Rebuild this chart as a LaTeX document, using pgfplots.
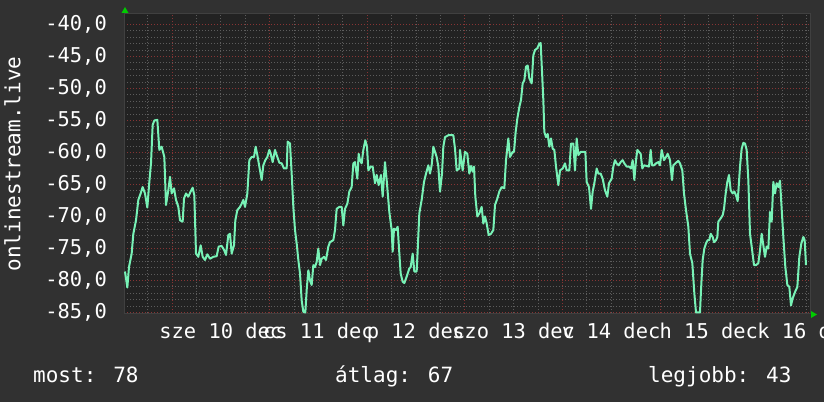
\documentclass[border=0pt]{standalone}
\usepackage{fontspec}
\setmainfont{DejaVu Sans Mono}
\usepackage{pgfplots}
\pgfplotsset{compat=1.18}
\definecolor{bgcol}{RGB}{49,49,49}
\definecolor{plotbg}{RGB}{34,34,34}
\definecolor{linecol}{RGB}{120,242,182}
\definecolor{majgrid}{RGB}{135,52,52}
\definecolor{mingrid}{RGB}{92,92,92}
\definecolor{arrowgreen}{RGB}{0,204,0}
\definecolor{axiscol}{RGB}{64,64,64}
\begin{document}
\begin{tikzpicture}
\useasboundingbox (0,0) rectangle (824pt,402pt);
\fill[bgcol] (0,0) rectangle (824pt,402pt);
\begin{axis}[
  scale only axis, width=686pt, height=299pt,
  at={(124pt,89pt)}, anchor=south west,
  xmin=12, xmax=2070, ymin=-85.08, ymax=-38.36,
  axis background/.style={fill=plotbg},
  axis line style={draw=axiscol, line width=1pt},
  xtick={302.4,595.2,888,1180.8,1473.6,1766.4,2059.2},
  xticklabels={sze 10 dec, cs 11 dec, p 12 dec, szo 13 dec, v 14 dec, h 15 dec, k 16 dec},
  xmajorgrids=false,
  minor xtick={82.8,229.2,302.4,375.6,522,595.2,668.4,814.8,888,961.2,1107.6,1180.8,1254,1400.4,1473.6,1546.8,1693.2,1766.4,1839.6,1986,2059.2},
  xminorgrids=true,
  extra x ticks={156,448.8,741.6,1034.4,1327.2,1620,1912.8},
  extra x tick labels={,,,,,,},
  extra x tick style={grid=major},
  ytick={-85,-80,...,-40},
  minor y tick num=4,
  ymajorgrids=true, yminorgrids=true,
  major grid style={draw=majgrid, line width=0.8pt, dash pattern=on 1pt off 2pt},
  minor grid style={draw=mingrid, line width=0.8pt, dash pattern=on 1pt off 2pt},
  major tick length=0pt, minor tick length=0pt,
  tick label style={font=\fontsize{20.4}{24}\selectfont, text=white},
  xticklabel style={anchor=base, inner sep=0pt, yshift=-25pt},
  yticklabel style={anchor=east, inner sep=0pt, xshift=-17pt,
    /pgf/number format/.cd, fixed, fixed zerofill, precision=1, use comma, assume math mode=true},
]
\addplot[linecol, line width=2pt, line join=round] coordinates {
(15,-78.6) (22,-81.1) (27,-77.9) (35,-75.8) (40,-72.7) (48,-70.6) (55,-67.4) (62,-66.4) (68,-65.4) (75,-66.4) (82,-68.6) (88,-64.6) (93,-61.7) (98,-55.7) (103,-55.0) (112,-54.9) (118,-59.6) (125,-59.1) (133,-60.7) (138,-68.2) (145,-65.9) (150,-63.8) (155,-66.4) (162,-65.6) (168,-67.4) (175,-68.5) (180,-70.6) (188,-70.8) (192,-67.2) (198,-66.4) (205,-66.9) (212,-66.1) (218,-65.5) (223,-66.7) (228,-75.8) (235,-76.3) (242,-74.5) (248,-76.3) (255,-76.8) (262,-75.9) (270,-76.6) (280,-76.3) (290,-76.2) (296,-74.7) (305,-74.6) (312,-75.2) (318,-76.0) (325,-72.9) (330,-72.7) (335,-75.8) (342,-74.5) (346,-70.6) (352,-69.0) (360,-68.5) (365,-68.0) (370,-67.4) (375,-68.5) (382,-66.4) (388,-61.2) (395,-60.7) (402,-60.7) (407,-59.1) (412,-60.4) (418,-62.2) (425,-64.3) (430,-62.0) (436,-61.2) (442,-60.7) (448,-59.6) (452,-60.2) (458,-61.5) (465,-59.6) (470,-60.4) (478,-61.6) (485,-61.7) (492,-62.5) (500,-62.5) (503,-58.3) (510,-58.6) (515,-63.3) (520,-68.5) (525,-72.1) (530,-74.2) (535,-76.8) (540,-78.9) (545,-83.1) (550,-84.9) (556,-85.0) (560,-81.5) (565,-78.4) (570,-80.0) (575,-80.7) (580,-77.6) (585,-77.9) (590,-77.1) (595,-75.0) (600,-77.6) (605,-76.6) (612,-76.3) (618,-76.8) (625,-74.7) (630,-74.0) (640,-73.7) (645,-72.1) (650,-68.8) (658,-68.5) (665,-68.5) (670,-71.4) (675,-68.8) (682,-68.0) (688,-66.1) (695,-65.4) (700,-61.7) (705,-61.5) (712,-64.1) (716,-60.2) (720,-61.2) (725,-61.7) (730,-59.6) (736,-58.1) (741,-59.1) (745,-62.8) (752,-62.2) (758,-62.2) (765,-64.8) (770,-63.5) (776,-65.1) (783,-63.5) (788,-66.9) (795,-61.5) (800,-64.3) (808,-69.3) (815,-72.1) (818,-75.5) (822,-71.9) (828,-72.1) (833,-71.6) (838,-75.8) (842,-78.9) (848,-80.2) (853,-80.4) (860,-79.4) (868,-78.1) (872,-77.9) (878,-75.8) (883,-78.6) (890,-78.6) (893,-75.3) (898,-69.5) (905,-67.4) (912,-64.6) (918,-63.3) (925,-62.0) (930,-63.3) (935,-62.0) (940,-59.1) (945,-59.9) (950,-60.7) (955,-62.2) (960,-66.1) (966,-63.3) (970,-59.1) (975,-57.6) (985,-57.3) (1000,-57.3) (1005,-59.4) (1010,-62.8) (1018,-62.5)
(1020,-59.6) (1028,-62.8) (1035,-59.9) (1042,-60.2) (1048,-63.3) (1053,-62.1) (1058,-63.0) (1062,-62.2) (1066,-66.9) (1072,-70.0) (1078,-69.5) (1085,-68.5) (1090,-71.1) (1095,-70.0) (1100,-71.1) (1106,-72.9) (1113,-72.7) (1120,-72.1) (1125,-68.2) (1132,-67.2) (1138,-66.1) (1145,-65.4) (1153,-65.6) (1158,-61.2) (1165,-57.8) (1170,-60.7) (1178,-59.9) (1182,-59.9) (1187,-56.8) (1192,-54.7) (1198,-52.9) (1203,-51.8) (1208,-49.2) (1213,-48.7) (1218,-46.6) (1223,-46.4) (1228,-48.4) (1235,-49.2) (1240,-44.8) (1245,-44.0) (1252,-43.7) (1258,-43.0) (1262,-42.9) (1267,-48.4) (1270,-51.8) (1273,-56.8) (1278,-57.6) (1283,-57.1) (1288,-59.1) (1293,-57.8) (1298,-59.4) (1303,-59.6) (1308,-62.2) (1315,-65.1) (1320,-62.8) (1328,-62.5) (1335,-61.7) (1340,-62.8) (1348,-62.8) (1353,-58.6) (1360,-58.6) (1365,-62.8) (1370,-57.8) (1375,-60.4) (1382,-59.9) (1390,-59.9) (1396,-59.9) (1400,-64.6) (1407,-65.4) (1413,-68.8) (1418,-66.1) (1423,-64.8) (1430,-62.5) (1435,-63.3) (1442,-63.3) (1448,-64.1) (1455,-65.9) (1462,-66.9) (1467,-64.8) (1475,-64.1) (1480,-62.2) (1485,-61.2) (1490,-61.7) (1496,-62.0) (1502,-61.5) (1508,-61.2) (1513,-61.7) (1520,-62.2) (1527,-62.2) (1533,-62.5) (1538,-61.2) (1543,-64.3) (1548,-61.2) (1552,-59.6) (1557,-59.9) (1562,-60.2) (1567,-62.5) (1572,-62.0) (1580,-62.1) (1587,-62.2) (1592,-59.6) (1596,-62.0) (1602,-62.0) (1608,-61.7) (1615,-61.5) (1620,-62.0) (1625,-59.6) (1632,-61.2) (1638,-60.7) (1643,-60.2) (1650,-61.2) (1656,-64.3) (1660,-62.0) (1668,-61.6) (1675,-61.3) (1680,-61.7) (1687,-62.8) (1692,-66.4) (1698,-69.0) (1705,-71.6) (1710,-75.8) (1717,-77.3) (1723,-82.0) (1728,-85.0) (1735,-85.0) (1740,-85.0) (1743,-81.5) (1748,-76.8) (1753,-75.0) (1758,-74.2) (1763,-73.7) (1768,-73.7) (1772,-72.7) (1778,-73.2) (1782,-74.0) (1788,-73.7) (1792,-73.2) (1795,-70.8) (1802,-70.3) (1808,-69.8) (1812,-68.8) (1817,-66.4) (1822,-64.6) (1827,-63.5) (1832,-65.9) (1838,-66.4) (1843,-66.1) (1848,-66.7) (1853,-67.6) (1856,-65.4) (1860,-62.2) (1865,-59.4) (1870,-58.5) (1875,-58.6) (1880,-59.6) (1885,-64.3) (1890,-72.7) (1895,-74.7) (1902,-77.6) (1908,-77.6) (1915,-77.3) (1920,-75.3) (1925,-72.7) (1930,-74.5) (1935,-76.3) (1940,-74.7) (1945,-75.0) (1950,-69.3) (1955,-70.8) (1960,-64.6) (1965,-66.4) (1970,-64.8) (1975,-65.4) (1980,-64.4) (1985,-68.8) (1990,-73.2) (1996,-77.9) (2002,-80.7) (2008,-81.0) (2013,-83.9) (2018,-82.8) (2025,-81.8) (2032,-81.0) (2038,-76.3) (2044,-74.2) (2050,-73.2) (2054,-73.7) (2058,-77.6)
};
\end{axis}
\fill[arrowgreen] (121.5pt,389pt) -- (128.5pt,389pt) -- (125pt,395pt) -- cycle;
\fill[arrowgreen] (811pt,84pt) -- (811pt,91pt) -- (817pt,87.5pt) -- cycle;
\node[rotate=90, text=white, font=\fontsize{21}{25}\selectfont, inner sep=0pt] at (12.5pt,238pt) {onlinestream.live};
\begin{scope}[every node/.style={anchor=base west, inner sep=0pt, text=white, font=\fontsize{21}{25}\selectfont}]
\node at (33pt,20pt) {most: 78};
\node at (335pt,20pt) {átlag: 67};
\node at (648pt,20pt) {legjobb: 43};
\end{scope}
\end{tikzpicture}
\end{document}
